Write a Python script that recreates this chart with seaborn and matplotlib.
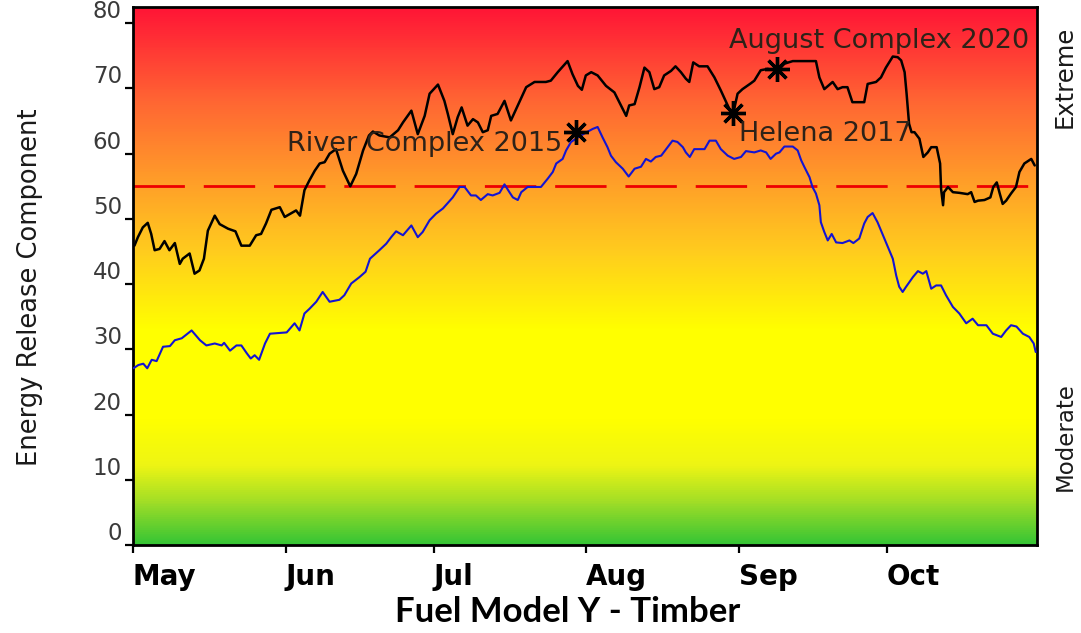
import numpy as np
import pandas as pd
import matplotlib
matplotlib.use("Agg")
import matplotlib.pyplot as plt
import matplotlib.dates as mdates
from matplotlib.colors import LinearSegmentedColormap
import seaborn as sns

# ── Data (day 0 = May 1) ─────────────────────────────────────────────────────
SEASON_START = pd.Timestamp("2021-05-01")

max_days = [0.3, 1.0, 2.0, 3.0, 3.7, 4.4, 5.4, 6.4, 7.4, 8.5, 9.5, 10.1, 11.5,
            12.5, 13.5, 14.4, 15.2, 16.6, 17.6, 19.3, 20.8, 22.0, 23.7, 25.0,
            26.0, 27.0, 28.1, 29.8, 30.8, 33.1, 33.9, 34.8, 35.8, 36.9, 37.9,
            38.9, 39.9, 41.2, 42.6, 44.1, 45.3, 46.7, 47.9, 48.7, 50.0, 52.1,
            53.8, 54.8, 56.5, 57.8, 59.2, 60.2, 61.9, 63.2, 63.9, 64.9, 65.9,
            66.7, 67.9, 69.0, 70.0, 71.0, 72.0, 72.7, 74.0, 75.4, 76.7, 78.4,
            79.8, 81.5, 83.8, 84.8, 86.2, 88.2, 89.2, 90.3, 91.1, 91.9, 93.0,
            94.3, 96.0, 97.7, 98.7, 100.1, 100.7, 101.8, 102.8, 103.8, 104.8,
            105.8, 106.8, 107.8, 109.2, 110.1, 111.2, 112.2, 112.9, 113.7,
            114.9, 116.6, 118.0, 119.3, 120.7, 121.7, 122.7, 123.7, 125.4,
            126.1, 127.4, 128.8, 130.8, 132.2, 133.9, 138.6, 139.3, 140.3,
            142.0, 143.0, 144.0, 145.0, 146.0, 148.4, 149.1, 150.8, 151.8,
            152.8, 154.2, 155.2, 155.9, 156.6, 157.0, 157.5, 158.0, 158.6,
            159.6, 160.4, 161.3, 162.0, 163.1, 163.8, 164.0, 164.4, 164.6,
            165.4, 166.4, 167.7, 169.4, 170.1, 170.8, 171.5, 172.8, 174.0,
            174.6, 175.3, 175.9, 176.5, 177.2, 178.2, 179.2, 179.9, 180.9,
            182.3, 183.0]
max_erc = [45.9, 47.2, 48.7, 49.4, 47.7, 45.2, 45.4, 46.6, 45.2, 46.3, 43.1,
           43.9, 44.7, 41.6, 42.1, 43.9, 48.2, 50.5, 49.2, 48.5, 48.1, 45.9,
           45.9, 47.5, 47.7, 49.3, 51.4, 51.8, 50.3, 51.3, 50.5, 54.4, 55.9,
           57.4, 58.5, 58.7, 60.0, 60.7, 57.4, 55.0, 56.9, 60.5, 62.8, 63.4,
           62.8, 62.5, 63.6, 64.8, 66.6, 63.0, 65.8, 69.2, 70.6, 68.1, 66.1,
           63.0, 65.6, 67.1, 64.3, 65.3, 64.8, 63.3, 63.6, 65.8, 66.1, 68.1,
           65.1, 67.9, 70.2, 71.0, 71.0, 71.2, 72.5, 74.2, 72.2, 70.4, 69.8,
           72.0, 72.5, 72.0, 70.4, 69.4, 67.9, 65.8, 67.4, 67.6, 70.2, 73.2,
           72.5, 69.9, 70.2, 72.0, 72.7, 73.4, 72.5, 71.5, 71.0, 74.0, 73.4,
           73.4, 71.7, 69.7, 67.4, 65.8, 69.2, 69.9, 70.8, 71.2, 72.8, 73.0,
           72.7, 73.8, 74.2, 74.2, 71.7, 69.9, 71.0, 69.9, 70.2, 70.2, 67.9,
           67.9, 70.7, 71.0, 71.7, 73.2, 74.9, 74.8, 74.3, 72.5, 69.2, 64.6,
           63.3, 63.3, 62.3, 59.5, 60.2, 61.0, 61.0, 58.5, 54.6, 52.1, 54.1,
           54.9, 54.1, 54.0, 53.8, 54.1, 52.6, 52.8, 52.9, 53.3, 54.9, 55.6,
           53.9, 52.3, 52.8, 53.9, 54.9, 57.2, 58.5, 59.2, 58.2]

avg_days = [0.1, 1.1, 2.1, 2.9, 3.8, 4.8, 6.1, 7.5, 8.5, 9.9, 11.9, 13.6, 14.9,
            16.6, 18.0, 18.5, 19.7, 21.0, 22.0, 23.1, 23.9, 24.7, 25.6, 26.8,
            27.8, 29.5, 31.2, 32.8, 33.8, 34.8, 35.8, 37.2, 38.5, 39.9, 41.9,
            42.9, 44.3, 46.0, 47.2, 48.1, 50.0, 51.4, 52.4, 53.4, 54.8, 56.5,
            57.8, 58.8, 60.2, 61.5, 62.9, 64.9, 66.3, 67.3, 68.6, 69.6, 70.6,
            72.0, 73.0, 74.4, 75.4, 76.4, 77.1, 78.1, 78.8, 80.1, 82.8, 84.2,
            85.2, 85.9, 87.2, 87.9, 88.9, 90.3, 91.6, 93.3, 94.3, 95.3, 96.3,
            97.0, 98.0, 99.4, 100.6, 101.8, 103.1, 104.1, 105.1, 106.1, 107.2,
            108.2, 109.5, 110.5, 111.6, 112.2, 113.0, 113.9, 116.0, 117.0,
            118.3, 119.3, 120.7, 122.0, 123.4, 124.4, 126.1, 127.4, 128.5,
            129.4, 130.5, 131.2, 132.2, 133.9, 134.9, 135.6, 136.3, 137.3,
            137.9, 138.6, 139.3, 139.6, 140.3, 141.0, 141.8, 142.7, 144.0,
            145.4, 146.2, 147.4, 148.4, 149.1, 150.1, 151.1, 152.1, 153.1,
            154.2, 154.9, 155.5, 156.2, 156.9, 158.3, 159.3, 160.3, 161.0,
            162.0, 163.0, 164.0, 165.0, 166.4, 167.7, 169.1, 170.4, 171.5,
            173.2, 174.5, 176.2, 177.2, 178.2, 179.3, 180.6, 181.9, 182.8,
            183.2]
avg_erc = [27.1, 27.6, 27.8, 27.1, 28.4, 28.2, 30.4, 30.5, 31.4, 31.7, 32.9,
           31.4, 30.6, 30.9, 30.6, 31.0, 29.8, 30.6, 30.6, 29.4, 28.6, 29.1,
           28.4, 30.9, 32.4, 32.5, 32.6, 34.0, 32.9, 35.5, 36.2, 37.3, 38.8,
           37.3, 37.6, 38.3, 40.1, 41.1, 41.9, 43.9, 45.2, 46.2, 47.2, 48.1,
           47.5, 49.0, 47.2, 48.0, 49.8, 50.8, 51.6, 53.3, 54.9, 54.9, 53.6,
           53.6, 52.9, 53.8, 53.6, 54.0, 55.3, 54.1, 53.3, 52.9, 54.1, 54.9,
           54.9, 56.2, 57.2, 58.5, 59.2, 60.5, 61.8, 62.5, 63.1, 63.8, 64.1,
           62.5, 61.0, 59.7, 58.7, 57.7, 56.5, 57.7, 58.0, 59.2, 58.8, 59.5,
           59.7, 60.7, 62.0, 61.8, 61.0, 60.2, 59.5, 60.7, 60.7, 62.0, 62.0,
           60.7, 59.7, 59.2, 59.5, 60.4, 60.2, 60.5, 60.2, 59.2, 60.0, 60.2,
           61.1, 61.1, 60.5, 59.0, 57.9, 56.4, 54.9, 53.9, 52.1, 49.5, 48.0,
           46.7, 47.7, 46.4, 46.3, 46.7, 46.3, 47.0, 49.3, 50.3, 50.9, 49.5,
           47.7, 45.9, 43.9, 41.3, 39.6, 38.8, 39.6, 41.1, 42.0, 41.6, 42.0,
           39.3, 39.8, 39.8, 38.3, 36.5, 35.5, 34.0, 34.7, 33.7, 33.7, 32.4,
           31.9, 32.9, 33.7, 33.5, 32.4, 31.9, 30.9, 29.6]

fire_names = ["River Complex 2015", "Helena 2017", "August Complex 2020"]
fire_days = [90.0, 121.7, 130.8]
fire_erc = [63.4, 66.3, 73.0]

THRESHOLD = 55
Y_MAX = 82.5
X_END = 183.4

# ── Frames ────────────────────────────────────────────────────────────────────
to_date = lambda d: SEASON_START + pd.to_timedelta(np.asarray(d), unit="D")
df_max = pd.DataFrame({"date": to_date(max_days), "erc": max_erc})
df_avg = pd.DataFrame({"date": to_date(avg_days), "erc": avg_erc})

sns.set_style("ticks")
plt.rcParams["font.family"] = ["DejaVu Sans"]

fig = plt.figure(figsize=(10.81, 6.33), dpi=100)
ax = fig.add_axes([0.123, 0.139, 0.836, 0.850])

# background gradient green -> yellow -> orange -> red
stops = [(0.0, "#36c535"), (6, "#9bdc28"), (12, "#eef514"), (19, "#ffff00"),
         (33, "#ffff00"), (45, "#ffcc1e"), (55, "#ffa128"), (68, "#ff6633"),
         (Y_MAX, "#ff1436")]
cmap = LinearSegmentedColormap.from_list(
    "erc", [(v / Y_MAX, c) for v, c in stops])
x0 = mdates.date2num(SEASON_START)
x1 = mdates.date2num(SEASON_START + pd.Timedelta(days=X_END))
ax.imshow(np.linspace(0, 1, 500).reshape(-1, 1), extent=[x0, x1, 0, Y_MAX],
          origin="lower", aspect="auto", cmap=cmap, zorder=0)

ax.axhline(THRESHOLD, color="#ee0000", lw=2.0,
           linestyle=(0, (18.5, 6.8)), zorder=2)

sns.lineplot(data=df_avg, x="date", y="erc", color="#1414d2", lw=1.5,
             ax=ax, zorder=3)
sns.lineplot(data=df_max, x="date", y="erc", color="black", lw=1.8,
             ax=ax, zorder=4)

ax.plot(to_date(fire_days), fire_erc, linestyle="none", marker=(8, 2, 0),
        ms=18, mew=2.4, color="black", zorder=5)

label_offsets = [(-14, -12, "right"), (6, -21, "left"), (-48, 28, "left")]
for name, d, v, (dx, dy, ha) in zip(fire_names, fire_days, fire_erc, label_offsets):
    ax.annotate(name, (to_date([d])[0], v), xytext=(dx, dy),
                textcoords="offset pixels", ha=ha, va="center",
                fontsize=19.5, color="#2e2218", zorder=6)

ax.set_xlim(x0, x1)
ax.set_ylim(0, Y_MAX)
ax.set_yticks(range(0, 81, 10))
ax.xaxis.set_major_locator(mdates.MonthLocator())
ax.xaxis.set_major_formatter(mdates.DateFormatter("%b"))
ax.set_xlabel("")
ax.set_ylabel("")

for s in ax.spines.values():
    s.set_visible(True)
    s.set_linewidth(2.0)
    s.set_color("black")

ax.tick_params(axis="y", direction="out", length=6, width=1.6, pad=2,
               labelsize=16.5, labelcolor="#3a3a3a", color="black")
ax.tick_params(axis="x", direction="out", length=6, width=1.6, pad=7,
               labelsize=20, labelcolor="black", color="black")
for lab in ax.get_yticklabels():
    lab.set_va("bottom")
for lab in ax.get_xticklabels():
    lab.set_ha("left")
    lab.set_fontweight("bold")

fig.text(0.028, 0.547, "Energy Release Component", rotation=90,
         ha="center", va="center", fontsize=18.5, color="#1a1a1a")
fig.text(0.985, 0.878, "Extreme", rotation=90, ha="center", va="center",
         fontsize=17.5, color="#1a1a1a")
fig.text(0.985, 0.31, "Moderate", rotation=90, ha="center", va="center",
         fontsize=16.5, color="#1a1a1a")
fig.text(0.525, 0.033, "Fuel Model Y - Timber", ha="center", va="center",
         fontsize=25, fontweight="bold", family="Lato", color="black")

fig.savefig("out.png", dpi=100)
